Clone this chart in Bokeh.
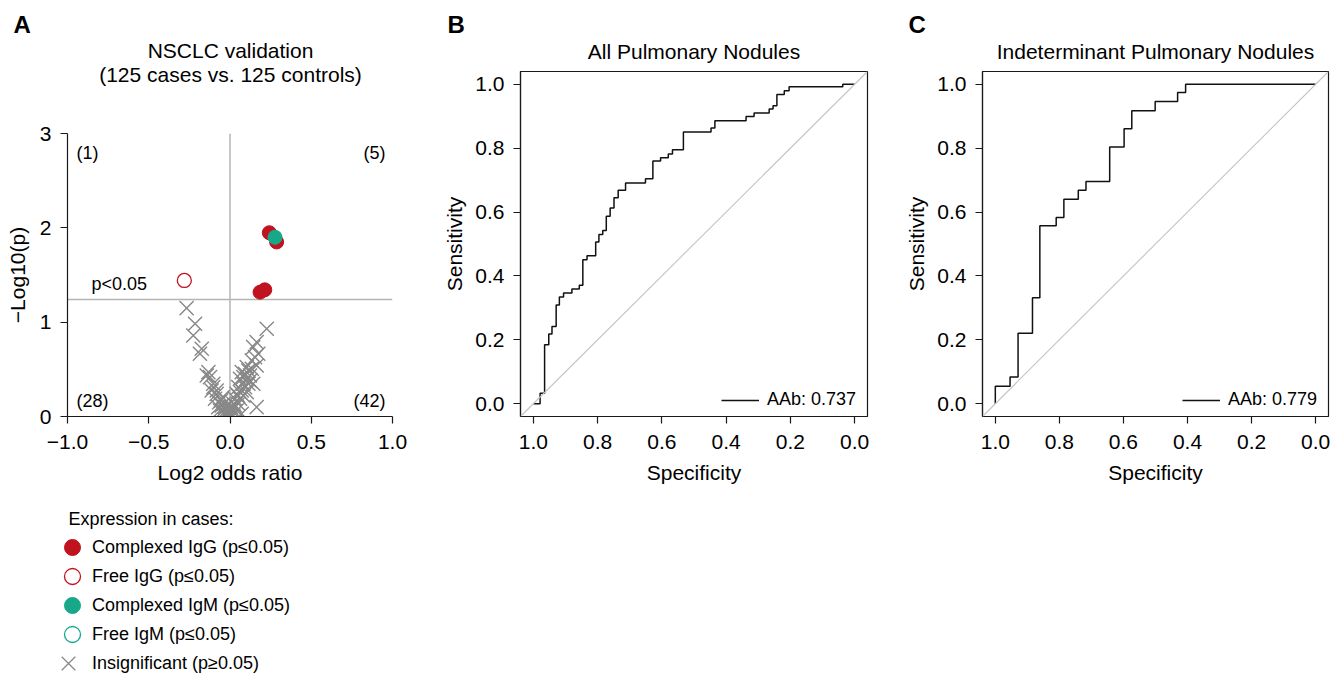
from bokeh.plotting import figure
from bokeh.layouts import row, column
from bokeh.models import (Range1d, Span, Slope, Label, Legend, LegendItem,
                          FixedTicker, NumeralTickFormatter)
from bokeh.embed import file_html
from bokeh.resources import INLINE

NaN = float("nan")

# ---------------- data ----------------
# Panel A: volcano plot (log2 odds ratio vs -log10 p)
threshold = 1.24
cplx_igg_x = [0.242, 0.287, 0.185, 0.214]
cplx_igg_y = [1.948, 1.850, 1.318, 1.343]
free_igg_x = [-0.281]
free_igg_y = [1.442]
cplx_igm_x = [0.277]
cplx_igm_y = [1.900]
free_igm_x = []
free_igm_y = []
insig_neg_x = [-0.267, -0.215, -0.226, -0.174, -0.185, -0.133, -0.123, -0.143, -0.103, -0.113,
               -0.082, -0.092, -0.066, -0.072, -0.051, -0.041, -0.031, -0.020, -0.062, -0.045,
               -0.031, -0.017, -0.103, -0.082, -0.010, -0.025, -0.054, -0.037]
insig_neg_y = [1.149, 0.983, 0.859, 0.718, 0.665, 0.470, 0.417, 0.435, 0.311, 0.276,
               0.240, 0.188, 0.152, 0.099, 0.117, 0.064, 0.029, 0.011, 0.064, 0.205,
               0.099, 0.046, 0.347, 0.276, 0.000, 0.064, 0.170, 0.135]
insig_pos_x = [0.226, 0.164, 0.143, 0.174, 0.134, 0.164, 0.103, 0.072, 0.092, 0.123,
               0.062, 0.103, 0.082, 0.143, 0.051, 0.072, 0.041, 0.103, 0.031, 0.062,
               0.021, 0.051, 0.010, 0.041, 0.002, 0.021, 0.164, 0.072, 0.082, 0.113,
               0.154, 0.134, 0.113, 0.092, 0.062, 0.031, 0.010, 0.005, 0.005, 0.082,
               0.050, 0.123]
insig_pos_y = [0.930, 0.788, 0.735, 0.665, 0.594, 0.541, 0.523, 0.470, 0.453, 0.435,
               0.400, 0.400, 0.347, 0.347, 0.311, 0.276, 0.240, 0.258, 0.188, 0.188,
               0.135, 0.135, 0.082, 0.064, 0.029, 0.011, 0.099, 0.029, 0.417, 0.488,
               0.629, 0.506, 0.347, 0.311, 0.258, 0.117, 0.064, 0.005, 0.100, 0.220,
               0.220, 0.380]
insig_x = insig_neg_x + insig_pos_x
insig_y = insig_neg_y + insig_pos_y

# Panel B: ROC, all pulmonary nodules (step corners)
spec_all = [1.0, 0.979, 0.965, 0.952, 0.942, 0.929, 0.919, 0.906, 0.880, 0.857, 0.846, 0.833,
            0.806, 0.796, 0.784, 0.773, 0.761, 0.749, 0.736, 0.713, 0.651, 0.628, 0.604, 0.580,
            0.567, 0.533, 0.447, 0.435, 0.338, 0.313, 0.266, 0.254, 0.242, 0.219, 0.204, 0.037, 0.0]
sens_all = [0.0, 0.033, 0.185, 0.218, 0.242, 0.309, 0.334, 0.347, 0.359, 0.371, 0.451, 0.463,
            0.506, 0.530, 0.542, 0.587, 0.613, 0.645, 0.668, 0.691, 0.704, 0.760, 0.770, 0.782,
            0.795, 0.851, 0.863, 0.886, 0.899, 0.910, 0.923, 0.933, 0.968, 0.980, 0.992, 1.0, 1.0]
auc_all = "0.737"

# Panel C: ROC, indeterminant pulmonary nodules
spec_ind = [1.0, 1.0, 0.954, 0.929, 0.884, 0.861, 0.810, 0.786, 0.741, 0.717, 0.643, 0.598,
            0.574, 0.501, 0.431, 0.406, 0.0]
sens_ind = [0.0, 0.055, 0.084, 0.221, 0.332, 0.557, 0.583, 0.640, 0.668, 0.696, 0.804, 0.861,
            0.917, 0.946, 0.974, 1.0, 1.0]
auc_ind = "0.779"

legend_title = "Expression in cases:"
legend_labels = ["Complexed IgG (p\u22640.05)", "Free IgG (p\u22640.05)",
                 "Complexed IgM (p\u22640.05)", "Free IgM (p\u22640.05)",
                 "Insignificant (p\u22650.05)"]

# ---------------- style ----------------
FONT = "Liberation Sans"
RED = "#c0121f"
TEAL = "#17a88a"
GREY = "#888888"
REFGREY = "#b5b5b5"
AXC = "#1a1a1a"
BIG = "21px"
SMALL = "18px"


def noalign(p):
    if "frame_align" in p.properties():
        p.frame_align = False


def style_axes(p):
    for ax in p.axis:
        ax.axis_line_color = AXC
        ax.axis_line_width = 1.2
        ax.major_tick_line_color = AXC
        ax.major_tick_line_width = 1.2
        ax.major_tick_out = 7
        ax.major_tick_in = 0
        ax.minor_tick_line_color = None
        ax.major_label_text_font = FONT
        ax.major_label_text_font_size = BIG
        ax.major_label_text_color = "black"
        ax.axis_label_text_font = FONT
        ax.axis_label_text_font_size = BIG
        ax.axis_label_text_font_style = "normal"
        ax.axis_label_text_color = "black"
    p.xaxis.major_label_standoff = 11
    p.yaxis.major_label_standoff = 9
    p.xaxis.axis_label_standoff = 9
    p.yaxis.axis_label_standoff = 8
    p.yaxis.major_label_orientation = "horizontal"
    p.grid.visible = False


def text(p, x, y, t, size=SMALL, align="left", bold=False, baseline="middle"):
    p.add_layout(Label(x=x, y=y, text=t, text_font=FONT, text_font_size=size,
                       text_align=align, text_baseline=baseline, text_color="black",
                       text_font_style="bold" if bold else "normal"))


def blank(width, height):
    p = figure(width=width, height=height, x_range=Range1d(0, width), y_range=Range1d(0, height),
               output_backend="svg", toolbar_location=None, x_axis_location=None, y_axis_location=None,
               min_border_left=0, min_border_right=0, min_border_top=0, min_border_bottom=0)
    p.outline_line_color = None
    p.grid.visible = False
    noalign(p)
    return p


def staircase(xs, ys):
    px, py = [xs[0]], [ys[0]]
    for i in range(1, len(xs)):
        px += [xs[i], xs[i]]
        py += [ys[i - 1], ys[i]]
    return px, py


# ---------------- Panel A ----------------
hA = blank(438, 90)
text(hA, 13, 90 - 24, "A", size="24px", bold=True)
text(hA, 230, 90 - 50, "NSCLC validation", size=BIG, align="center")
text(hA, 230, 90 - 74, "(125 cases vs. 125 controls)", size=BIG, align="center")

pA = figure(width=438, height=410, x_range=Range1d(-1, 1), y_range=Range1d(0, 3),
            output_backend="svg", toolbar_location=None,
            min_border_left=67, min_border_right=46, min_border_top=43, min_border_bottom=84)
noalign(pA)
pA.outline_line_color = None
pA.xaxis.ticker = FixedTicker(ticks=[-1, -0.5, 0, 0.5, 1])
pA.xaxis.major_label_overrides = {-1: "\u22121.0", -0.5: "\u22120.5", 0: "0.0", 0.5: "0.5", 1: "1.0"}
pA.yaxis.ticker = FixedTicker(ticks=[0, 1, 2, 3])
pA.xaxis.axis_label = "Log2 odds ratio"
pA.yaxis.axis_label = "\u2212Log10(p)"
style_axes(pA)
pA.add_layout(Span(location=0, dimension="height", line_color=REFGREY, line_width=1.5, level="underlay"))
pA.add_layout(Span(location=threshold, dimension="width", line_color=REFGREY, line_width=1.5, level="underlay"))

pA.scatter(insig_x, insig_y, marker="x", size=20, line_color=GREY, line_width=1.4)
pA.scatter(free_igg_x, free_igg_y, marker="circle", size=14, fill_color=None, line_color=RED, line_width=1.3)
pA.scatter(free_igm_x, free_igm_y, marker="circle", size=14, fill_color=None, line_color=TEAL, line_width=1.3)
pA.scatter(cplx_igg_x, cplx_igg_y, marker="circle", size=14, fill_color=RED, line_color=RED)
pA.scatter(cplx_igm_x, cplx_igm_y, marker="circle", size=14, fill_color=TEAL, line_color=TEAL)

sig_x = cplx_igg_x + free_igg_x + cplx_igm_x + free_igm_x
n_tl = sum(1 for v in sig_x if v < 0)
n_tr = sum(1 for v in sig_x if v >= 0)
n_bl = sum(1 for v in insig_x if v < 0)
n_br = sum(1 for v in insig_x if v >= 0)


def ax_(px):  # page pixel -> data, panel A frame 67..392 / 133..416
    return -1 + (px - 67) / 325 * 2


def ay_(py):
    return (416 - py) / 283 * 3


text(pA, ax_(76), ay_(152), f"({n_tl})")
text(pA, ax_(385), ay_(152), f"({n_tr})", align="right")
text(pA, ax_(76), ay_(400), f"({n_bl})")
text(pA, ax_(385), ay_(400), f"({n_br})", align="right")
text(pA, ax_(91), ay_(283), "p<0.05")

# ---------------- Legend (under panel A) ----------------
pL = blank(438, 174)
text(pL, 68, 174 - 518 + 500, legend_title)
leg_specs = [
    dict(marker="circle", fill_color=RED, line_color=RED),
    dict(marker="circle", fill_color=None, line_color=RED, line_width=1.3),
    dict(marker="circle", fill_color=TEAL, line_color=TEAL),
    dict(marker="circle", fill_color=None, line_color=TEAL, line_width=1.3),
    dict(marker="x", line_color=GREY, line_width=1.3),
]
for i, (lab, spec) in enumerate(zip(legend_labels, leg_specs)):
    r = pL.scatter([NaN], [NaN], **spec)
    g = 48 if spec["marker"] == "x" else 40
    cx = 68 if spec["marker"] == "x" else 72
    cy = 174 - (547 + 29 * i - 500)
    lg = Legend(items=[LegendItem(label=lab, renderers=[r])],
                location=(cx - g // 2, cy - g // 2), margin=0, padding=0, spacing=0,
                glyph_width=g, glyph_height=g, label_standoff=0,
                label_text_font=FONT, label_text_font_size=SMALL, label_text_color="black",
                border_line_alpha=0, background_fill_alpha=0)
    pL.add_layout(lg)


# ---------------- ROC panels ----------------
def roc_panel(width, left, right, specs, senss, auc):
    p = figure(width=width, height=608, x_range=Range1d(1.04, -0.04), y_range=Range1d(-0.04, 1.04),
               output_backend="svg", toolbar_location=None,
               min_border_left=left, min_border_right=right, min_border_top=5, min_border_bottom=258)
    noalign(p)
    p.outline_line_color = AXC
    p.outline_line_width = 1.2
    ticks = [0, 0.2, 0.4, 0.6, 0.8, 1]
    p.xaxis.ticker = FixedTicker(ticks=ticks)
    p.yaxis.ticker = FixedTicker(ticks=ticks)
    p.xaxis.formatter = NumeralTickFormatter(format="0.0")
    p.yaxis.formatter = NumeralTickFormatter(format="0.0")
    p.xaxis.axis_label = "Specificity"
    p.yaxis.axis_label = "Sensitivity"
    style_axes(p)
    p.yaxis.axis_label_standoff = 6
    p.add_layout(Slope(gradient=-1, y_intercept=1, line_color="#c4c4c4", line_width=1.1))
    sx, sy = staircase(specs, senss)
    r = p.line(sx, sy, line_color="#111111", line_width=1.5)
    fw = width - left - right
    lg = Legend(items=[LegendItem(label=f"AAb: {auc}", renderers=[r])], location=(fw - 146, 6),
                margin=0, padding=0, glyph_width=38, glyph_height=16,
                label_standoff=8, label_text_font=FONT, label_text_font_size=SMALL,
                label_text_color="black", border_line_alpha=0, background_fill_alpha=0)
    p.add_layout(lg)
    return p


hB = blank(462, 66)
text(hB, 447 - 438, 66 - 24, "B", size="24px", bold=True)
text(hB, 520 + 347 / 2 - 438, 66 - 51, "All Pulmonary Nodules", size=BIG, align="center")
pB = roc_panel(462, 82, 33, spec_all, sens_all, auc_all)

hC = blank(431, 66)
text(hC, 908 - 900, 66 - 24, "C", size="24px", bold=True)
text(hC, 982 + 346 / 2 - 900, 66 - 51, "Indeterminant Pulmonary Nodules", size=BIG, align="center")
pC = roc_panel(431, 82, 3, spec_ind, sens_ind, auc_ind)

layout = row(column(hA, pA, pL), column(hB, pB), column(hC, pC))
open("out.html", "w").write(file_html(layout, INLINE))
